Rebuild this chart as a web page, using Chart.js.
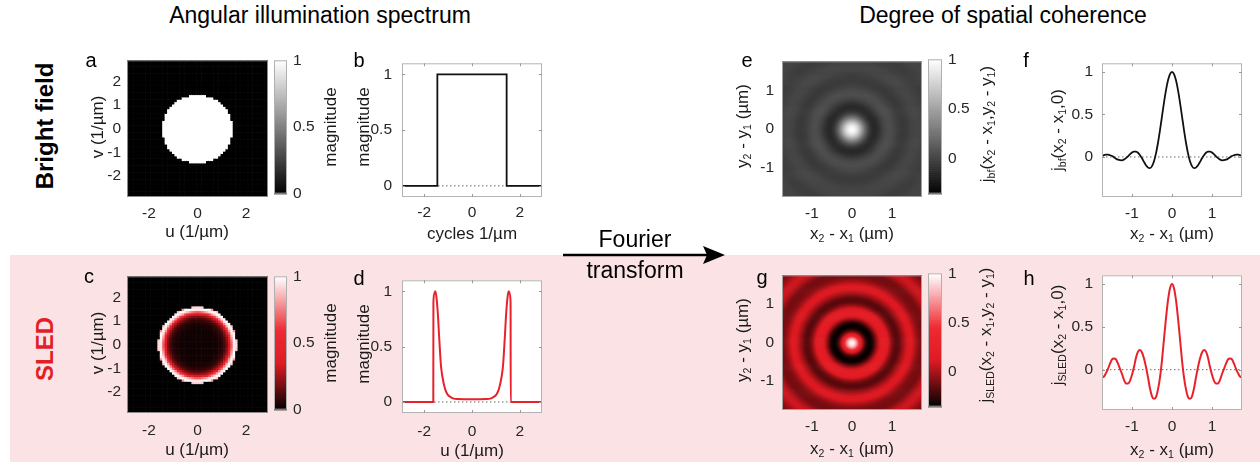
<!DOCTYPE html>
<html>
<head>
<meta charset="utf-8">
<script src="https://cdn.jsdelivr.net/npm/chart.js@4.4.1/dist/chart.umd.min.js"></script>
<style>
  body { margin: 0; background: #fff; }
  #fig { position: relative; width: 1260px; height: 468px; overflow: hidden;
         font-family: "Liberation Sans", Arial, Helvetica, sans-serif; color: #1a1a1a; }
  #fig canvas { position: absolute; }
  #pink { position: absolute; left: 10px; top: 255px; width: 1250px; height: 207px; background: #fbe3e5; }
  .lbl { position: absolute; white-space: nowrap; line-height: 1; font-size: 17px;
         transform: translate(-50%, -50%); }
  .rot { transform: translate(-50%, -50%) rotate(-90deg); }
  .lbl sub { font-size: 0.62em; vertical-align: -0.35em; line-height: 0; }
  .letter { font-size: 20px; color: #000; }
  .head { font-size: 23px; color: #000; }
  .row { font-size: 24px; font-weight: bold; color: #000; }
  .ft { font-size: 23px; color: #000; }
  #arrow { position: absolute; left: 555px; top: 240px; }
</style>
</head>
<body>
<div id="fig">
  <div id="pink"></div>
</div>
<script>
/* ---- data ---- */
const spectrumTicks = [-2, 0, 2];
const spectrumYTicks = [-2, -1, 0, 1, 2];
const coherenceTicks = [-1, 0, 1];
const magnitudeTicks = [0, 0.5, 1];

// b: bright field angular spectrum (top hat)
const brightU = [-2.93, -1.45, -1.45, 1.45, 1.45, 2.93];
const brightMag = [0, 0, 1, 1, 0, 0];

// d: SLED angular spectrum, radial half (mirrored for the line, rotated for the image)
const sledR =   [0,     0.6,   0.76, 0.9,   1.03, 1.13, 1.24, 1.3,  1.37, 1.43, 1.49, 1.54, 1.58, 1.615, 1.62, 2.93];
const sledMag = [0.025, 0.027, 0.03, 0.045, 0.07, 0.12, 0.23, 0.33, 0.57, 0.8,  0.95, 1.0,  0.98, 0.9,   0,    0];

// f / h: degree of coherence along x2 - x1 (radial half)
const coherenceR = [0, 0.05, 0.1, 0.15, 0.2, 0.25, 0.3, 0.35, 0.4, 0.45, 0.5, 0.55, 0.6, 0.65, 0.7, 0.75,
  0.8, 0.85, 0.9, 0.95, 1.0, 1.05, 1.1, 1.15, 1.2, 1.25, 1.3, 1.35, 1.4, 1.45, 1.5, 1.55, 1.6, 1.65,
  1.7, 1.75, 1.8, 1.85, 1.9, 1.95, 2.0, 2.05, 2.1, 2.15, 2.2, 2.25, 2.3, 2.35, 2.4, 2.45, 2.5];
const bfCoherence = [1, 0.974, 0.9, 0.784, 0.639, 0.477, 0.315, 0.167, 0.042, -0.05, -0.108, -0.131,
  -0.125, -0.098, -0.058, -0.015, 0.021, 0.049, 0.062, 0.063, 0.053, 0.031, 0.008, -0.013, -0.03,
  -0.039, -0.038, -0.032, -0.02, -0.004, 0.012, 0.021, 0.027, 0.027, 0.022, 0.013, 0.003, -0.008,
  -0.015, -0.02, -0.021, -0.018, -0.011, -0.001, 0.007, 0.014, 0.016, 0.016, 0.011, 0.006, 0];
const sledCoherence = [1, 0.95, 0.81, 0.6, 0.36, 0.11, -0.09, -0.23, -0.32, -0.34, -0.31, -0.22,
  -0.09, 0.03, 0.13, 0.2, 0.23, 0.21, 0.14, 0.03, -0.06, -0.13, -0.16, -0.16, -0.12, -0.05, 0.01,
  0.07, 0.12, 0.13, 0.12, 0.07, 0.01, -0.04, -0.08, -0.09, -0.1, -0.1, -0.07, -0.02, 0.03, 0.07,
  0.09, 0.09, 0.06, 0.02, -0.02, -0.06, -0.08, -0.08, -0.06];

const coherenceLimits = [-0.35, 1];

/* ---- colour maps ---- */
const grayStops = [[0, [0, 0, 0]], [1, [255, 255, 255]]];
const redStops = [[0, [0, 0, 0]], [0.35, [222, 26, 34]], [0.6, [238, 42, 50]], [1, [255, 255, 255]]];

function colorFrom(stops, t) {
    t = Math.min(1, Math.max(0, t));
    for (let i = 1; i < stops.length; i++) {
        if (t <= stops[i][0]) {
            const [t0, c0] = stops[i - 1], [t1, c1] = stops[i];
            const f = (t - t0) / (t1 - t0);
            const c = c0.map((v, k) => Math.round(v + f * (c1[k] - v)));
            return `rgb(${c[0]},${c[1]},${c[2]})`;
        }
    }
    const c = stops[stops.length - 1][1];
    return `rgb(${c[0]},${c[1]},${c[2]})`;
}
const scaled = (stops, lo, hi) => v => colorFrom(stops, (v - lo) / (hi - lo));

function profileAt(rs, vs, r) {
    if (r <= rs[0]) return vs[0];
    for (let i = 1; i < rs.length; i++) {
        if (r <= rs[i]) {
            const t = (r - rs[i - 1]) / (rs[i] - rs[i - 1]);
            return vs[i - 1] + t * (vs[i] - vs[i - 1]);
        }
    }
    return vs[vs.length - 1];
}

function mirrored(rs, vs, limit) {
    const pts = [];
    for (let i = rs.length - 1; i > 0; i--) if (rs[i] <= limit + 1e-9) pts.push({ x: -rs[i], y: vs[i] });
    for (let i = 0; i < rs.length; i++) if (rs[i] <= limit + 1e-9) pts.push({ x: rs[i], y: vs[i] });
    return pts;
}

/* ---- plugins ---- */
const heatmapPlugin = {
    id: 'heatmap',
    beforeDatasetsDraw(chart, args, opts) {
        if (!opts.value) return;
        const { ctx, chartArea: a, scales: { x, y } } = chart;
        const s = opts.step;
        ctx.save();
        ctx.beginPath(); ctx.rect(a.left, a.top, a.width, a.height); ctx.clip();
        const i0 = Math.floor(x.min / s), i1 = Math.ceil(x.max / s);
        const j0 = Math.floor(y.min / s), j1 = Math.ceil(y.max / s);
        for (let i = i0; i <= i1; i++) {
            const u = i * s;
            const px0 = x.getPixelForValue(u - s / 2), px1 = x.getPixelForValue(u + s / 2);
            for (let j = j0; j <= j1; j++) {
                const v = j * s;
                const py0 = y.getPixelForValue(v + s / 2), py1 = y.getPixelForValue(v - s / 2);
                ctx.fillStyle = opts.color(opts.value(u, v));
                ctx.fillRect(px0, py0, px1 - px0 + 0.6, py1 - py0 + 0.6);
            }
        }
        ctx.restore();
    }
};

const colorbarPlugin = {
    id: 'colorbar',
    beforeDatasetsDraw(chart, args, opts) {
        if (!opts.color) return;
        const { ctx, chartArea: a, scales: { y } } = chart;
        const n = 200, dv = (y.max - y.min) / n;
        for (let k = 0; k < n; k++) {
            const v = y.min + k * dv;
            const p0 = y.getPixelForValue(v + dv), p1 = y.getPixelForValue(v);
            ctx.fillStyle = opts.color(v + dv / 2);
            ctx.fillRect(a.left, p0, a.width, p1 - p0 + 0.6);
        }
    }
};

const framePlugin = {
    id: 'frame',
    beforeDatasetsDraw(chart, args, opts) {
        if (!opts.fill) return;
        const { ctx, chartArea: a } = chart;
        ctx.fillStyle = opts.fill;
        ctx.fillRect(a.left, a.top, a.width, a.height);
    },
    afterDatasetsDraw(chart, args, opts) {
        const { ctx, chartArea: a, scales } = chart;
        ctx.save();
        ctx.strokeStyle = opts.color || '#b4b4b4';
        ctx.lineWidth = 1;
        ctx.strokeRect(a.left + 0.5, a.top + 0.5, a.width - 1, a.height - 1);
        if (opts.ticks) {
            ctx.strokeStyle = '#9a9a9a';
            scales.x.ticks.forEach(t => {
                const p = Math.round(scales.x.getPixelForValue(t.value)) + 0.5;
                ctx.beginPath();
                ctx.moveTo(p, a.bottom); ctx.lineTo(p, a.bottom - 3);
                ctx.moveTo(p, a.top); ctx.lineTo(p, a.top + 3);
                ctx.stroke();
            });
            scales.y.ticks.forEach(t => {
                const p = Math.round(scales.y.getPixelForValue(t.value)) + 0.5;
                ctx.beginPath();
                ctx.moveTo(a.left, p); ctx.lineTo(a.left + 3, p);
                ctx.moveTo(a.right, p); ctx.lineTo(a.right - 3, p);
                ctx.stroke();
            });
        }
        ctx.restore();
    }
};

/* ---- chart helpers ---- */
Chart.defaults.font.family = '"Liberation Sans", Arial, Helvetica, sans-serif';
Chart.defaults.font.size = 15.5;
Chart.defaults.color = '#262626';
Chart.defaults.animation = false;
Chart.defaults.events = [];
Chart.defaults.plugins.legend.display = false;
Chart.defaults.plugins.tooltip.enabled = false;

const fig = document.getElementById('fig');

function axis(min, max, ticks, position, size, pad) {
    return {
        type: 'linear', position, min, max,
        grid: { display: false, drawTicks: false }, border: { display: false },
        afterBuildTicks: s => { s.ticks = ticks.map(v => ({ value: v })); },
        afterFit: s => { if (s.isHorizontal()) s.height = size; else s.width = size; },
        ticks: { padding: pad, autoSkip: false, maxRotation: 0, callback: v => String(v) }
    };
}

function addCanvas(left, top, w, h) {
    const canvas = document.createElement('canvas');
    canvas.width = w; canvas.height = h;
    canvas.style.left = left + 'px'; canvas.style.top = top + 'px';
    fig.appendChild(canvas);
    return canvas;
}

function addPanel(area, L, xAxis, yAxis, datasets, plugins) {
    const T = 12, R = 6, B = 30;
    xAxis.afterFit = s => { s.height = B; };
    yAxis.afterFit = s => { s.width = L; };
    const canvas = addCanvas(area.x - L, area.y - T, L + area.w + R, T + area.h + B);
    return new Chart(canvas, {
        type: 'scatter',
        data: { datasets },
        options: {
            responsive: false, devicePixelRatio: 1,
            layout: { padding: { top: T, right: R, left: 0, bottom: 0 } },
            scales: { x: xAxis, y: yAxis },
            plugins
        },
        plugins: [heatmapPlugin, framePlugin]
    });
}

function addColorbar(area, min, max, color) {
    const T = 12, B = 12, W = 40;
    const canvas = addCanvas(area.x, area.y - T, area.w + W, T + area.h + B);
    return new Chart(canvas, {
        type: 'scatter',
        data: { datasets: [{ data: [] }] },
        options: {
            responsive: false, devicePixelRatio: 1,
            layout: { padding: { top: T, right: 0, left: 0, bottom: B } },
            scales: {
                x: { display: false, min: 0, max: 1 },
                y: axis(min, max, magnitudeTicks, 'right', W, 6)
            },
            plugins: { colorbar: { color }, frame: { color: '#b0b0b0' } }
        },
        plugins: [colorbarPlugin, framePlugin]
    });
}

function lineSet(points, color, width, smooth) {
    return {
        data: points, showLine: true, pointRadius: 0, borderColor: color, borderWidth: width,
        tension: 0, cubicInterpolationMode: smooth ? 'monotone' : 'default'
    };
}
function zeroSet(lo, hi) {
    return {
        data: [{ x: lo, y: 0 }, { x: hi, y: 0 }], showLine: true, pointRadius: 0,
        borderColor: '#6a6a6a', borderWidth: 1, borderDash: [1.5, 2.5]
    };
}

const sledRed = '#e8212b';

/* a: bright field spectrum image */
addPanel({ x: 127, y: 57, w: 141, h: 140 }, 40,
    axis(-2.9, 2.9, spectrumTicks, 'bottom', 30, 7),
    axis(-2.9, 2.9, spectrumYTicks, 'left', 40, 6),
    [{ data: [] }],
    { heatmap: { step: 0.1, value: (u, v) => profileAt(brightU, brightMag, Math.hypot(u, v)), color: scaled(grayStops, 0, 1) },
      frame: { color: '#8a8a8a' } });
addColorbar({ x: 274, y: 57, w: 13, h: 140 }, 0, 1, scaled(grayStops, 0, 1));

/* b: bright field spectrum profile */
addPanel({ x: 402, y: 56, w: 140, h: 141 }, 40,
    axis(-2.93, 2.93, spectrumTicks, 'bottom', 30, 6),
    axis(-0.1, 1.1, magnitudeTicks, 'left', 40, 10),
    [lineSet(brightU.map((u, i) => ({ x: u, y: brightMag[i] })), '#111', 1.8, false), zeroSet(-2.93, 2.93)],
    { frame: { fill: '#fff', ticks: true } });

/* c: SLED spectrum image */
addPanel({ x: 127, y: 273, w: 141, h: 140 }, 40,
    axis(-2.9, 2.9, spectrumTicks, 'bottom', 30, 8),
    axis(-2.9, 2.9, spectrumYTicks, 'left', 40, 6),
    [{ data: [] }],
    { heatmap: { step: 0.1, value: (u, v) => profileAt(sledR, sledMag, Math.hypot(u, v)), color: scaled(redStops, 0, 1) },
      frame: { color: '#8a8a8a' } });
addColorbar({ x: 274, y: 273, w: 13, h: 140 }, 0, 1, scaled(redStops, 0, 1));

/* d: SLED spectrum profile */
addPanel({ x: 402, y: 273, w: 140, h: 140 }, 40,
    axis(-2.93, 2.93, spectrumTicks, 'bottom', 30, 9),
    axis(-0.1, 1.1, magnitudeTicks, 'left', 40, 10),
    [lineSet(mirrored(sledR, sledMag, 2.93), sledRed, 2, true), zeroSet(-2.93, 2.93)],
    { frame: { fill: '#fff', ticks: true } });

/* e: bright field coherence image */
addPanel({ x: 782, y: 56, w: 140, h: 141 }, 40,
    axis(-1.75, 1.75, coherenceTicks, 'bottom', 30, 7),
    axis(-1.75, 1.75, coherenceTicks, 'left', 40, 8),
    [{ data: [] }],
    { heatmap: { step: 0.025, value: (u, v) => profileAt(coherenceR, bfCoherence, Math.hypot(u, v)),
                 color: scaled(grayStops, coherenceLimits[0], coherenceLimits[1]) },
      frame: { color: '#a0a0a0' } });
addColorbar({ x: 928, y: 56, w: 14, h: 141 }, coherenceLimits[0], coherenceLimits[1],
    scaled(grayStops, coherenceLimits[0], coherenceLimits[1]));

/* f: bright field coherence profile */
addPanel({ x: 1102, y: 57, w: 140, h: 140 }, 40,
    axis(-1.75, 1.75, coherenceTicks, 'bottom', 30, 7),
    axis(-0.47, 1.1, magnitudeTicks, 'left', 40, 9),
    [lineSet(mirrored(coherenceR, bfCoherence, 1.75), '#111', 1.8, true), zeroSet(-1.75, 1.75)],
    { frame: { fill: '#fff', ticks: true } });

/* g: SLED coherence image */
addPanel({ x: 782, y: 270, w: 140, h: 140 }, 40,
    axis(-1.75, 1.75, coherenceTicks, 'bottom', 30, 7),
    axis(-1.75, 1.75, coherenceTicks, 'left', 40, 8),
    [{ data: [] }],
    { heatmap: { step: 0.025, value: (u, v) => profileAt(coherenceR, sledCoherence, Math.hypot(u, v)),
                 color: scaled(redStops, coherenceLimits[0], coherenceLimits[1]) },
      frame: { color: '#a0a0a0' } });
addColorbar({ x: 928, y: 270, w: 14, h: 140 }, coherenceLimits[0], coherenceLimits[1],
    scaled(redStops, coherenceLimits[0], coherenceLimits[1]));

/* h: SLED coherence profile */
addPanel({ x: 1102, y: 269, w: 140, h: 141 }, 40,
    axis(-1.75, 1.75, coherenceTicks, 'bottom', 30, 7),
    axis(-0.47, 1.1, magnitudeTicks, 'left', 40, 9),
    [lineSet(mirrored(coherenceR, sledCoherence, 1.75), sledRed, 2, true), zeroSet(-1.75, 1.75)],
    { frame: { fill: '#fff', ticks: true } });

/* ---- text ---- */
const texts = [
    ['Angular illumination spectrum', 320, 15, 'head'],
    ['Degree of spatial coherence', 1003, 15, 'head'],
    ['Bright field', 45, 126, 'row rot'],
    ['SLED', 45, 349, 'row rot', '#e31f26'],
    ['a', 91, 60, 'letter'], ['b', 359, 60, 'letter'], ['c', 89, 276, 'letter'], ['d', 359, 278, 'letter'],
    ['e', 747, 60, 'letter'], ['f', 1026, 60, 'letter'], ['g', 762, 277, 'letter'], ['h', 1029, 278, 'letter'],
    ['u (1/µm)', 197, 231, ''], ['v (1/µm)', 97, 127, 'rot'], ['magnitude', 330, 127, 'rot'],
    ['cycles 1/µm', 472, 233, ''], ['magnitude', 363, 127, 'rot'],
    ['u (1/µm)', 197, 449, ''], ['v (1/µm)', 97, 343, 'rot'], ['magnitude', 330, 343, 'rot'],
    ['u (1/µm)', 472, 450, ''], ['magnitude', 363, 344, 'rot'],
    ['x<sub>2</sub> - x<sub>1</sub> (µm)', 852, 233, ''],
    ['y<sub>2</sub> - y<sub>1</sub> (µm)', 742, 126, 'rot'],
    ['j<sub>bf</sub>(x<sub>2</sub> - x<sub>1</sub>,y<sub>2</sub> - y<sub>1</sub>)', 986, 124, 'rot'],
    ['x<sub>2</sub> - x<sub>1</sub> (µm)', 1172, 233, ''],
    ['j<sub>bf</sub>(x<sub>2</sub> - x<sub>1</sub>,0)', 1057, 130, 'rot'],
    ['x<sub>2</sub> - x<sub>1</sub> (µm)', 852, 448, ''],
    ['y<sub>2</sub> - y<sub>1</sub> (µm)', 742, 340, 'rot'],
    ['j<sub>SLED</sub>(x<sub>2</sub> - x<sub>1</sub>,y<sub>2</sub> - y<sub>1</sub>)', 985, 335, 'rot'],
    ['x<sub>2</sub> - x<sub>1</sub> (µm)', 1172, 449, ''],
    ['j<sub>SLED</sub>(x<sub>2</sub> - x<sub>1</sub>,0)', 1057, 335, 'rot'],
    ['Fourier', 635, 239, 'ft'],
    ['transform', 635, 270, 'ft']
];
texts.forEach(([html, x, y, cls, color]) => {
    const el = document.createElement('div');
    el.className = 'lbl ' + cls;
    el.innerHTML = html;
    el.style.left = x + 'px';
    el.style.top = y + 'px';
    if (color) el.style.color = color;
    fig.appendChild(el);
});

/* Fourier transform arrow */
fig.insertAdjacentHTML('beforeend',
    '<svg id="arrow" width="180" height="30" viewBox="0 0 180 30">' +
    '<line x1="8" y1="15" x2="152" y2="15" stroke="#000" stroke-width="2.5"/>' +
    '<polygon points="148,6 170,15 148,24 152,15" fill="#000"/></svg>');
</script>
</body>
</html>
